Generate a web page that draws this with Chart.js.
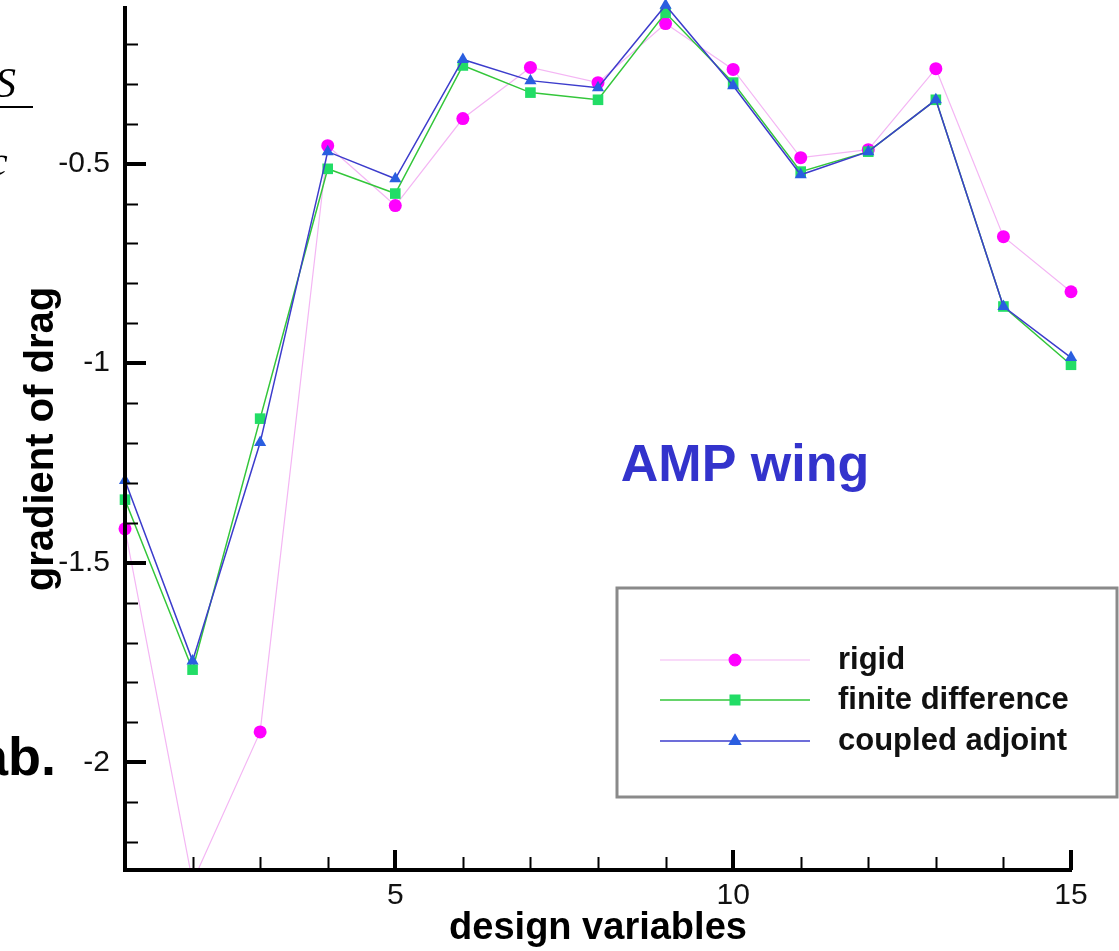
<!DOCTYPE html>
<html>
<head>
<meta charset="utf-8">
<script src="https://cdn.jsdelivr.net/npm/chart.js@4"></script>
<style>
    html, body { margin: 0; padding: 0; background: #fff; }
    #wrap { position: relative; width: 1119px; height: 951px; overflow: hidden; }
    #chart { position: absolute; left: 0; top: 0; }
    .frag { position: absolute; color: #000; white-space: nowrap; }
    .serif { font-family: "Liberation Serif", "DejaVu Serif", serif; font-style: italic; font-size: 42px; }
    .bold { font-family: "Liberation Sans", Arial, sans-serif; font-weight: bold; font-size: 54px; }
</style>
</head>
<body>
<div id="wrap">
    <canvas id="chart" width="1119" height="951"></canvas>
    <!-- cropped slide text on the left edge -->
    <div class="frag serif" style="left:-5px; top:59px;">S</div>
    <div style="position:absolute; left:0; top:106px; width:33px; height:2px; background:#000;"></div>
    <div class="frag serif" style="left:-11px; top:137px;">c</div>
    <div class="frag bold" style="left:-22px; top:725px;">ab.</div>
</div>

<script>
// ================================
// gradient of drag - AMP wing
// ================================

// design variables
const designVars = [1, 2, 3, 4, 5, 6, 7, 8, 9, 10, 11, 12, 13, 14, 15];

// series values
const rigid = [-1.415, -2.30, -1.924, -0.455, -0.605, -0.387, -0.259, -0.297, -0.149, -0.264, -0.485, -0.465, -0.262, -0.683, -0.821];
const finiteDiff = [-1.342, -1.768, -1.139, -0.513, -0.575, -0.254, -0.322, -0.340, -0.122, -0.297, -0.520, -0.470, -0.340, -0.858, -1.004];
const coupledAdjoint = [-1.294, -1.746, -1.199, -0.470, -0.538, -0.239, -0.292, -0.310, -0.103, -0.305, -0.528, -0.470, -0.340, -0.858, -0.986];

// tick labels
const xTicks = [5, 10, 15];
const yTicks = [-2, -1.5, -1, -0.5];

const seriesNames = ['rigid', 'finite difference', 'coupled adjoint'];

function toPoints(values) {
    return values.map((v, i) => ({ x: designVars[i], y: v }));
}

// Axes with inward major/minor ticks
const axesPlugin = {
    id: 'axesPlugin',
    afterDatasetsDraw(chart) {
        const { ctx, chartArea: a, scales: { x, y } } = chart;
        ctx.save();
        ctx.strokeStyle = '#000';

        // minor ticks
        ctx.lineWidth = 2;
        ctx.beginPath();
        for (let v = Math.ceil(y.min * 10); v <= Math.floor(y.max * 10); v++) {
            const py = Math.round(y.getPixelForValue(v / 10)) + 0.5;
            ctx.moveTo(a.left, py);
            ctx.lineTo(a.left + 13, py);
        }
        for (let v = Math.ceil(x.min); v <= x.max; v++) {
            const px = Math.round(x.getPixelForValue(v)) + 0.5;
            ctx.moveTo(px, a.bottom);
            ctx.lineTo(px, a.bottom - 13);
        }
        ctx.stroke();

        // major ticks
        ctx.lineWidth = 4;
        ctx.beginPath();
        yTicks.forEach(v => {
            const py = Math.round(y.getPixelForValue(v));
            ctx.moveTo(a.left, py);
            ctx.lineTo(a.left + 21, py);
        });
        xTicks.forEach(v => {
            const px = Math.round(x.getPixelForValue(v));
            ctx.moveTo(px, a.bottom);
            ctx.lineTo(px, a.bottom - 20);
        });
        ctx.stroke();

        // axis lines
        ctx.lineWidth = 4;
        ctx.beginPath();
        ctx.moveTo(a.left, a.top - 2);
        ctx.lineTo(a.left, a.bottom);
        ctx.lineTo(a.right + 1, a.bottom);
        ctx.stroke();

        // annotation
        ctx.fillStyle = '#3333cc';
        ctx.font = 'bold 52px "Liberation Sans", Arial, sans-serif';
        ctx.textAlign = 'center';
        ctx.textBaseline = 'alphabetic';
        ctx.fillText('AMP wing', 745, 481);
        ctx.restore();
    }
};

// Legend box with line + marker
const legendPlugin = {
    id: 'legendPlugin',
    afterDraw(chart) {
        const { ctx } = chart;
        const box = { left: 617, top: 588, right: 1117, bottom: 797 };
        ctx.save();
        ctx.strokeStyle = '#8a8a8a';
        ctx.lineWidth = 3;
        ctx.strokeRect(box.left, box.top, box.right - box.left, box.bottom - box.top);

        const rows = [660, 700, 741];
        chart.data.datasets.forEach((ds, i) => {
            const yy = rows[i];
            ctx.strokeStyle = ds.borderColor;
            ctx.lineWidth = ds.borderWidth;
            ctx.beginPath();
            ctx.moveTo(660, yy);
            ctx.lineTo(810, yy);
            ctx.stroke();
            ctx.fillStyle = ds.pointBackgroundColor;
            ctx.strokeStyle = ds.pointBackgroundColor;
            Chart.helpers.drawPoint(ctx, {
                pointStyle: ds.pointStyle,
                rotation: 0,
                radius: ds.pointRadius * 0.9,
                borderWidth: 0.5
            }, 735, yy);

            ctx.fillStyle = '#111';
            ctx.font = 'bold 31px "Liberation Sans", Arial, sans-serif';
            ctx.textAlign = 'left';
            ctx.textBaseline = 'middle';
            ctx.fillText(ds.label, 838, yy);
        });
        ctx.restore();
    }
};

const noClipBottomOnly = { left: false, top: false, right: false, bottom: 0 };

new Chart(document.getElementById('chart'), {
    type: 'line',
    data: {
        datasets: [
            {
                label: seriesNames[0],
                data: toPoints(rigid),
                borderColor: '#f4b6f4',
                borderWidth: 1.2,
                pointStyle: 'circle',
                pointRadius: 6.5,
                pointBackgroundColor: '#ff00ff',
                pointBorderColor: '#ff00ff',
                pointBorderWidth: 0,
                clip: noClipBottomOnly,
                order: 2
            },
            {
                label: seriesNames[1],
                data: toPoints(finiteDiff),
                borderColor: '#33c63a',
                borderWidth: 1.5,
                pointStyle: 'rect',
                pointRadius: 7.5,
                pointBackgroundColor: '#22dd66',
                pointBorderColor: '#22dd66',
                pointBorderWidth: 0,
                clip: noClipBottomOnly,
                order: 1
            },
            {
                label: seriesNames[2],
                data: toPoints(coupledAdjoint),
                borderColor: '#3c3ccc',
                borderWidth: 1.5,
                pointStyle: 'triangle',
                pointRadius: 7,
                pointBackgroundColor: '#2a5ee0',
                pointBorderColor: '#2a5ee0',
                pointBorderWidth: 0,
                clip: noClipBottomOnly,
                order: 0
            }
        ]
    },
    options: {
        responsive: false,
        animation: false,
        events: [],
        layout: { padding: { top: 8, right: 48, left: 0, bottom: 0 } },
        plugins: {
            legend: { display: false },
            tooltip: { enabled: false }
        },
        scales: {
            x: {
                type: 'linear',
                min: 1,
                max: 15,
                grid: { display: false, drawTicks: false },
                border: { display: false },
                afterBuildTicks: scale => { scale.ticks = xTicks.map(v => ({ value: v })); },
                afterFit: scale => {
                    scale.height = 81;
                    scale.paddingLeft = 0;
                    scale.paddingRight = 0;
                },
                ticks: {
                    color: '#111',
                    padding: 8,
                    maxRotation: 0,
                    autoSkip: false,
                    font: { family: '"Liberation Sans", Arial, sans-serif', size: 30 }
                },
                title: {
                    display: true,
                    text: 'design variables',
                    color: '#000',
                    padding: 0,
                    font: { family: '"Liberation Sans", Arial, sans-serif', size: 38, weight: 'bold' }
                }
            },
            y: {
                type: 'linear',
                min: -2.27,
                max: -0.11,
                grid: { display: false, drawTicks: false },
                border: { display: false },
                afterBuildTicks: scale => { scale.ticks = yTicks.map(v => ({ value: v })); },
                afterFit: scale => {
                    scale.width = 125;
                    scale.paddingTop = 0;
                    scale.paddingBottom = 0;
                },
                ticks: {
                    color: '#111',
                    padding: 15,
                    autoSkip: false,
                    font: { family: '"Liberation Sans", Arial, sans-serif', size: 30 },
                    callback: v => String(v)
                },
                title: {
                    display: true,
                    text: 'gradient of drag',
                    color: '#000',
                    padding: { top: 18, bottom: 0 },
                    font: { family: '"Liberation Sans", Arial, sans-serif', size: 40, weight: 'bold' }
                }
            }
        }
    },
    plugins: [axesPlugin, legendPlugin]
});
</script>
</body>
</html>
